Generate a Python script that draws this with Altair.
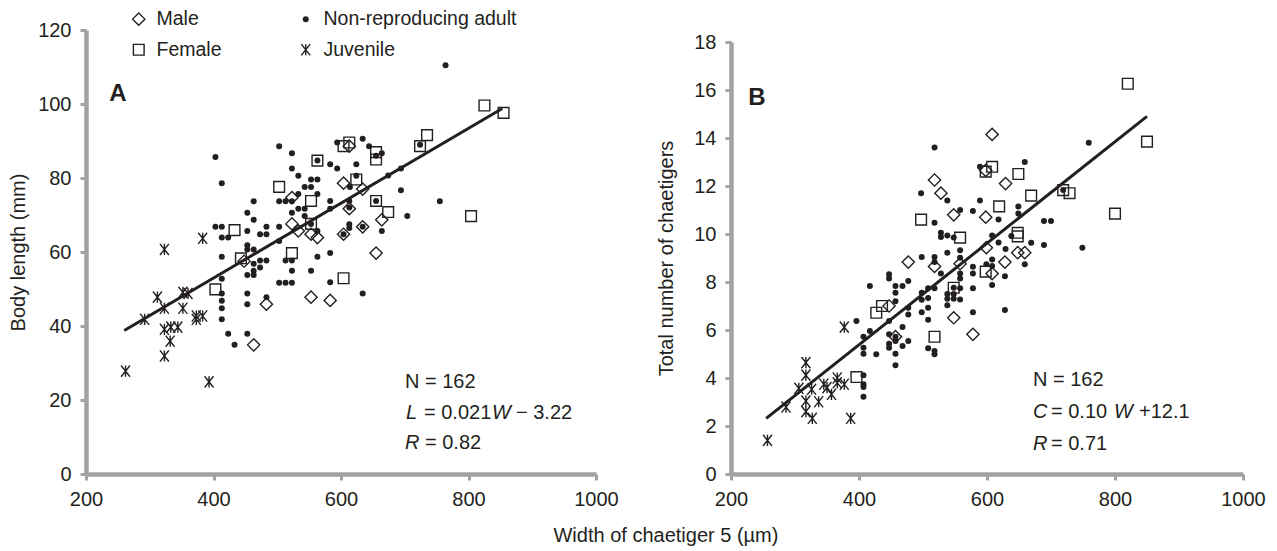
import altair as alt
import pandas as pd

FONT = "Liberation Sans"
INK = "#231f20"
GREY = "#a2a2a5"

TYPES = ["Male", "Female", "Non-reproducing adult", "Juvenile"]
JUV_PATH = "M-0.8,-1L0.8,1M-0.8,1L0.8,-1M0,-1L0,1"

# ---------------- Panel A: body length (mm) vs width of chaetiger 5 (µm)
A_MALE = [(604, 78.6), (634, 77.0), (523, 74.7), (613, 71.7), (523, 67.6), (533, 65.7),
          (553, 64.8), (563, 63.9), (604, 64.8), (634, 66.8), (655, 59.7), (613, 88.6),
          (664, 68.7), (448, 57.5), (483, 45.9), (463, 34.9), (553, 47.8), (583, 46.9)]
A_FEMALE = [(503, 77.6), (553, 73.8), (433, 65.9), (553, 67.6), (563, 84.7), (613, 89.6),
            (604, 88.6), (624, 79.6), (655, 87.0), (655, 85.0), (655, 73.8), (523, 59.7),
            (443, 58.3), (403, 49.9), (604, 52.9), (825, 99.6), (855, 97.6), (735, 91.6),
            (724, 88.6), (804, 69.7), (674, 70.8)]
A_JUV = [(312, 47.8), (352, 49.1), (360, 48.8), (323, 44.8), (352, 44.8), (292, 41.8),
         (373, 42.7), (383, 42.7), (373, 41.8), (323, 39.1), (333, 39.7), (344, 39.7),
         (332, 35.9), (323, 31.9), (262, 27.8), (393, 24.9), (383, 63.7), (323, 60.7)]
A_ADULT = [(403, 85.7), (413, 78.6), (503, 88.6), (523, 86.7), (523, 82.6), (533, 80.6),
           (553, 79.6), (563, 79.6), (543, 77.6), (553, 77.6), (563, 75.7), (533, 75.7),
           (463, 73.7), (503, 73.7), (513, 73.7), (523, 73.7), (533, 71.7), (543, 71.7),
           (453, 70.6), (523, 70.6), (463, 68.7), (543, 69.7), (403, 66.8), (413, 66.8),
           (483, 66.8), (503, 66.8), (413, 63.9), (423, 63.9), (453, 65.7), (473, 64.8),
           (483, 64.8), (503, 63.0), (413, 58.7), (563, 58.7), (583, 59.7), (583, 83.7),
           (594, 82.6), (624, 83.7), (634, 90.6), (594, 89.6), (644, 88.6), (613, 73.8),
           (613, 72.0), (613, 67.5), (613, 66.5), (563, 65.7), (624, 80.6), (553, 67.6),
           (655, 86.0), (604, 64.8), (634, 66.8), (563, 84.7), (764, 110.5), (724, 89.0),
           (694, 82.6), (674, 80.7), (694, 76.7), (755, 73.7), (704, 69.7), (664, 65.7),
           (664, 86.7), (583, 73.8), (614, 77.6), (583, 71.7), (655, 73.8), (453, 61.8),
           (453, 60.7), (463, 60.7), (463, 56.8), (473, 57.7), (483, 57.7), (473, 55.8),
           (453, 53.8), (463, 54.9), (463, 53.8), (413, 52.8), (413, 48.8), (413, 46.8),
           (413, 44.8), (413, 41.8), (453, 48.8), (453, 45.9), (483, 47.8), (423, 37.9),
           (453, 37.9), (433, 34.9), (513, 57.7), (523, 57.7), (553, 54.9), (503, 51.7),
           (513, 51.7), (523, 51.7), (523, 54.9), (583, 51.8), (634, 48.8)]
A_FIT = [(260, 38.8), (853, 98.8)]
A_NOTES = ["N = 162", "L", "= 0.021", "W", "− 3.22", "R", "= 0.82"]

# ---------------- Panel B: total number of chaetigers vs width of chaetiger 5 (µm)
B_MALE = [(608, 14.15), (518, 12.25), (528, 11.7), (548, 10.8), (629, 12.1), (598, 10.7),
          (598, 12.65), (477, 8.83), (518, 8.65), (558, 8.76), (599, 9.43), (628, 8.83),
          (648, 9.22), (659, 9.22), (608, 8.35), (548, 6.51), (578, 5.82), (447, 7.0),
          (457, 5.72)]
B_FEMALE = [(497, 10.6), (608, 12.8), (598, 12.6), (649, 12.5), (669, 11.6), (619, 11.15),
            (820, 16.26), (850, 13.85), (719, 11.83), (729, 11.7), (800, 10.85), (648, 10.05),
            (648, 9.9), (598, 8.43), (558, 9.85), (548, 7.76), (518, 5.72), (436, 7.0),
            (427, 6.72), (396, 4.04)]
B_JUV = [(377, 6.12), (317, 4.64), (317, 4.12), (306, 3.57), (326, 3.53), (345, 3.74),
         (366, 4.0), (366, 3.8), (377, 3.74), (317, 3.04), (337, 3.01), (357, 3.32),
         (286, 2.79), (317, 2.6), (327, 2.32), (387, 2.32), (257, 1.4), (350, 3.6)]
B_ADULT = [(518, 13.6), (538, 11.4), (497, 11.7), (558, 11.0), (578, 10.96), (589, 11.4),
           (589, 12.8), (659, 13.0), (649, 11.15), (649, 10.85), (618, 10.6), (759, 13.8),
           (719, 11.83), (689, 10.54), (700, 10.54), (749, 9.43), (669, 9.64), (689, 9.54),
           (659, 8.74), (628, 8.24), (628, 6.83), (608, 9.94), (618, 9.65), (629, 9.38),
           (608, 8.94), (608, 8.67), (608, 7.88), (578, 8.64), (578, 8.35), (578, 7.74),
           (578, 6.74), (599, 8.74), (518, 10.47), (528, 10.05), (528, 9.87), (538, 9.94),
           (548, 9.85), (538, 9.22), (558, 9.32), (498, 9.04), (518, 9.04), (518, 8.83),
           (528, 8.35), (558, 8.35), (558, 8.15), (477, 8.04), (468, 7.83), (498, 7.55),
           (508, 7.74), (518, 7.74), (538, 7.5), (548, 7.5), (538, 7.3), (548, 7.3),
           (558, 7.74), (558, 7.27), (508, 7.33), (498, 7.26), (477, 6.93), (477, 6.65),
           (498, 6.74), (508, 6.93), (508, 6.43), (538, 7.03), (468, 6.12), (468, 5.33),
           (477, 5.54), (508, 5.24), (518, 5.12), (518, 4.99), (638, 9.92), (558, 9.01),
           (457, 7.83), (457, 7.55), (457, 7.2), (447, 8.32), (447, 8.15), (417, 7.83),
           (447, 6.37), (417, 5.96), (407, 5.72), (396, 6.37), (447, 5.82), (447, 5.43),
           (447, 5.26), (457, 5.54), (457, 5.01), (457, 4.53), (407, 5.26), (407, 5.01),
           (427, 4.99), (407, 4.11), (407, 3.74), (407, 3.63), (407, 3.22), (548, 7.76),
           (457, 5.72)]
B_FIT = [(255, 2.32), (850, 14.9)]
B_NOTES = ["N = 162", "C", "= 0.10", "W", "+12.1", "R", "= 0.71"]

X_TICKS = [200, 400, 600, 800, 1000]
A_TICKS = [0, 20, 40, 60, 80, 100, 120]
B_TICKS = [0, 2, 4, 6, 8, 10, 12, 14, 16, 18]


def frame(groups):
    rows = []
    for t, pts in groups:
        for w, v in pts:
            rows.append({"W": w, "V": v, "type": t})
    return pd.DataFrame(rows)


def fit_frame(pts):
    return pd.DataFrame({"W": [p[0] for p in pts], "V": [p[1] for p in pts]})


legend = alt.Legend(orient="none", legendX=43, legendY=-21, columns=2,
                    columnPadding=74, rowPadding=10, title=None,
                    labelFont=FONT, labelFontSize=19.5, labelColor=INK, labelLimit=400,
                    labelOffset=8, symbolStrokeWidth=1.4)

enc_common = dict(
    shape=alt.Shape("type:N", scale=alt.Scale(domain=TYPES,
                    range=["diamond", "square", "circle", JUV_PATH]), legend=legend),
    fill=alt.Fill("type:N", scale=alt.Scale(domain=TYPES,
                  range=["transparent", "transparent", INK, "transparent"]), legend=legend),
    stroke=alt.Stroke("type:N", scale=alt.Scale(domain=TYPES,
                      range=[INK, INK, "transparent", INK]), legend=legend),
    size=alt.Size("type:N", scale=alt.Scale(type="ordinal", domain=TYPES,
                  range=[150, 115, 36, 125]), legend=legend),
)


def text_layer(s, x, y, italic=False, size=20, weight="normal", align="left"):
    kw = dict(font=FONT, fontSize=size, color=INK, align=align, baseline="middle",
              fontWeight=weight)
    if italic:
        kw["fontStyle"] = "italic"
    return alt.Chart(pd.DataFrame({"t": [s]})).mark_text(**kw).encode(
        x=alt.value(x), y=alt.value(y), text="t:N")


def panel(points_df, fit_df, ydom, yticks, yrange, ytitle, title_pad, width, notes,
          note_pos, tag, tag_pos):
    xenc = alt.X("W:Q", scale=alt.Scale(domain=[200, 1000], nice=False, zero=False),
                 axis=alt.Axis(values=X_TICKS, format="d", title=None, labelFlush=False))
    yenc = alt.Y("V:Q", scale=alt.Scale(domain=ydom, range=yrange, nice=False, zero=False),
                 axis=alt.Axis(values=yticks, format="d", title=ytitle, labelFlush=False,
                               titlePadding=title_pad))
    pts = alt.Chart(points_df).mark_point(opacity=1, strokeWidth=1.4).encode(
        x=xenc, y=yenc, **enc_common)
    fit = alt.Chart(fit_df).mark_line(color=INK, strokeWidth=3).encode(
        x=alt.X("W:Q"), y=alt.Y("V:Q"))
    layers = [pts, fit]
    for s, (x, y, it) in zip(notes, note_pos):
        layers.append(text_layer(s, x, y, italic=it))
    layers.append(text_layer(tag, tag_pos[0], tag_pos[1], size=24, weight="bold",
                             align="center"))
    return alt.layer(*layers).properties(width=width, height=444)


dfA = frame([("Non-reproducing adult", A_ADULT), ("Male", A_MALE),
             ("Female", A_FEMALE), ("Juvenile", A_JUV)])
dfB = frame([("Non-reproducing adult", B_ADULT), ("Male", B_MALE),
             ("Female", B_FEMALE), ("Juvenile", B_JUV)])

posA = [(319, 352, False), (320, 383, True), (338, 383, False), (406, 383, True),
        (430, 383, False), (319, 413, True), (339, 413, False)]
posB = [(302, 350, False), (302, 382, True), (320, 382, False), (383, 382, True),
        (408, 382, False), (302, 414, True), (320, 414, False)]

chartA = panel(dfA, fit_frame(A_FIT), [0, 120], A_TICKS, [444, 0], "Body length (mm)", 9,
               510, A_NOTES, posA, "A", (32, 64))
chartB = panel(dfB, fit_frame(B_FIT), [0, 18], B_TICKS, [444, 12],
               "Total number of chaetigers", 17, 512, B_NOTES, posB, "B", (26, 68))

chart = alt.hconcat(chartA, chartB, spacing=37).properties(
    title=alt.TitleParams("Width of chaetiger 5 (µm)", orient="bottom", anchor="middle",
                          font=FONT, fontSize=20, fontWeight="normal", color=INK,
                          offset=17, dx=29),
    padding={"left": 0, "top": 1, "right": 0, "bottom": 0},
).configure_axis(
    grid=False, domainColor=GREY, domainWidth=4.5, tickColor=GREY, tickWidth=3,
    tickSize=6, labelFont=FONT, labelFontSize=20, labelColor=INK, labelPadding=9,
    titleFont=FONT, titleFontSize=20, titleFontWeight="normal", titleColor=INK,
).configure_view(stroke=None)

chart.save("out.html", embed_options={"renderer": "svg", "actions": False})
